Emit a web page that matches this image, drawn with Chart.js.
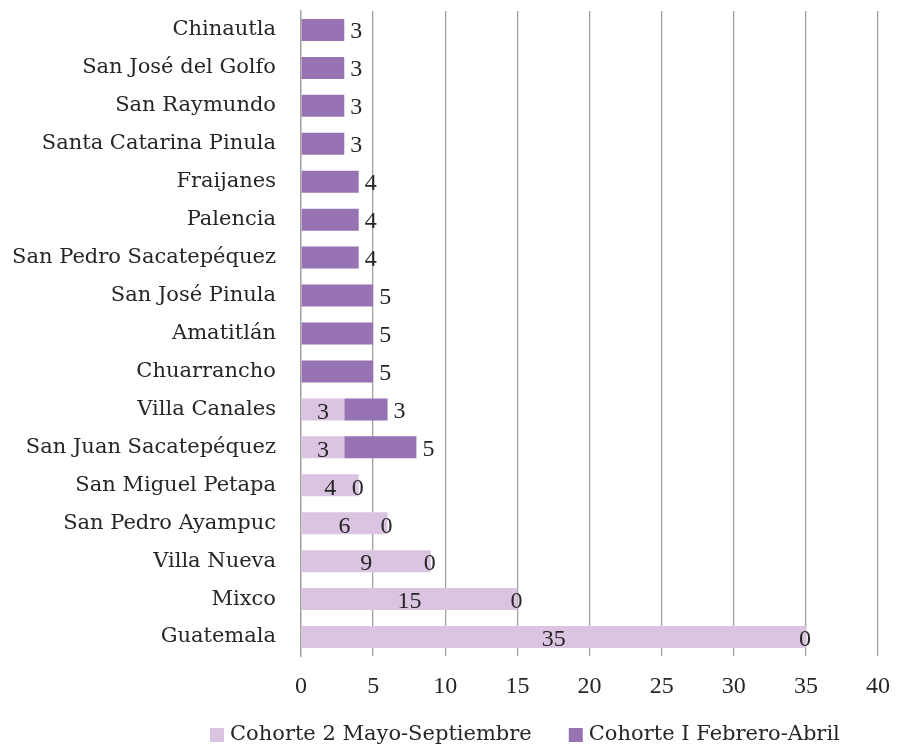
<!DOCTYPE html>
<html><head><meta charset="utf-8">
<script src="https://cdn.jsdelivr.net/npm/chart.js@4/dist/chart.umd.min.js"></script>
<style>html,body{margin:0;padding:0;background:#fff}#wrap{width:897px;height:750px}</style>
</head><body><div id="wrap"><canvas id="c" width="897" height="750"></canvas></div>
<script>
const categories = ["Chinautla","San José del Golfo","San Raymundo","Santa Catarina Pinula","Fraijanes","Palencia","San Pedro Sacatepéquez","San José Pinula","Amatitlán","Chuarrancho","Villa Canales","San Juan Sacatepéquez","San Miguel Petapa","San Pedro Ayampuc","Villa Nueva","Mixco","Guatemala"];
const cohorte2 = [null,null,null,null,null,null,null,null,null,null,3,3,4,6,9,15,35];
const cohorte1 = [3,3,3,3,4,4,4,5,5,5,3,5,0,0,0,0,0];
const seriesNames = ["Cohorte 2 Mayo-Septiembre","Cohorte I Febrero-Abril"];
const xTicks = [0,5,10,15,20,25,30,35,40];

const FONT = "'DejaVu Serif', serif";
const NUMFONT = "'Liberation Serif', serif";
const TXT = "#262626";
const labelPlugin = {
  id: 'barLabels',
  afterDatasetsDraw(chart) {
    const ctx = chart.ctx;
    ctx.save();
    ctx.font = "24px " + NUMFONT;
    ctx.fillStyle = TXT;
    ctx.textAlign = "center";
    ctx.textBaseline = "middle";
    chart.data.datasets.forEach((ds, di) => {
      const meta = chart.getDatasetMeta(di);
      meta.data.forEach((bar, i) => {
        const v = ds.data[i];
        if (v === null || v === undefined) return;
        if (di === 0) {
          ctx.fillText(String(v), (bar.x + bar.base) / 2, bar.y + 3);
        } else {
          if (v === 0) ctx.fillText("0", bar.x - 1, bar.y + 3);
          else ctx.fillText(String(v), bar.x + 12, bar.y + 2);
        }
      });
    });
    ctx.restore();
  }
};
const legendPlugin = {
  id: 'customLegend',
  afterDraw(chart) {
    const ctx = chart.ctx;
    ctx.save();
    ctx.font = "21px " + FONT;
    ctx.textBaseline = "middle";
    ctx.textAlign = "left";
    let x = 210;
    const y = 735;
    chart.data.datasets.forEach((ds) => {
      ctx.fillStyle = ds.backgroundColor;
      ctx.fillRect(x, y - 7, 14, 14);
      ctx.fillStyle = TXT;
      ctx.fillText(ds.label, x + 20, y);
      x += 20 + ctx.measureText(ds.label).width + 37;
    });
    ctx.restore();
  }
};

new Chart(document.getElementById('c'), {
  type: 'bar',
  data: {
    labels: categories,
    datasets: [
      { label: seriesNames[0], data: cohorte2, backgroundColor: '#dac4e1', borderWidth: 0 },
      { label: seriesNames[1], data: cohorte1, backgroundColor: '#9773b4', borderWidth: 0 }
    ]
  },
  options: {
    indexAxis: 'y',
    responsive: false,
    animation: false,
    layout: { padding: { left: 0, right: 19, top: 11, bottom: 37 } },
    datasets: { bar: { categoryPercentage: 1, barPercentage: 0.58 } },
    plugins: {
      legend: { display: false },
      tooltip: { enabled: false }
    },
    scales: {
      x: {
        stacked: true, min: 0, max: 40,
        afterBuildTicks: (s) => { s.ticks = xTicks.map(v => ({ value: v })); },
        afterFit: (s) => { s.height = 57; s.paddingLeft = 0; s.paddingRight = 0; },
        grid: { color: '#a0a0a0', lineWidth: 1.3, drawTicks: false },
        border: { display: false },
        ticks: { font: { family: NUMFONT, size: 24 }, color: TXT, padding: 16 }
      },
      y: {
        stacked: true,
        afterFit: (s) => { s.width = 301; s.paddingTop = 0; s.paddingBottom = 0; },
        grid: { display: false, drawTicks: false },
        border: { display: true, color: '#a0a0a0', width: 1.3 },
        ticks: { font: { family: FONT, size: 21 }, color: TXT, padding: 25 }
      }
    }
  },
  plugins: [labelPlugin, legendPlugin]
});
</script>
</body></html>
